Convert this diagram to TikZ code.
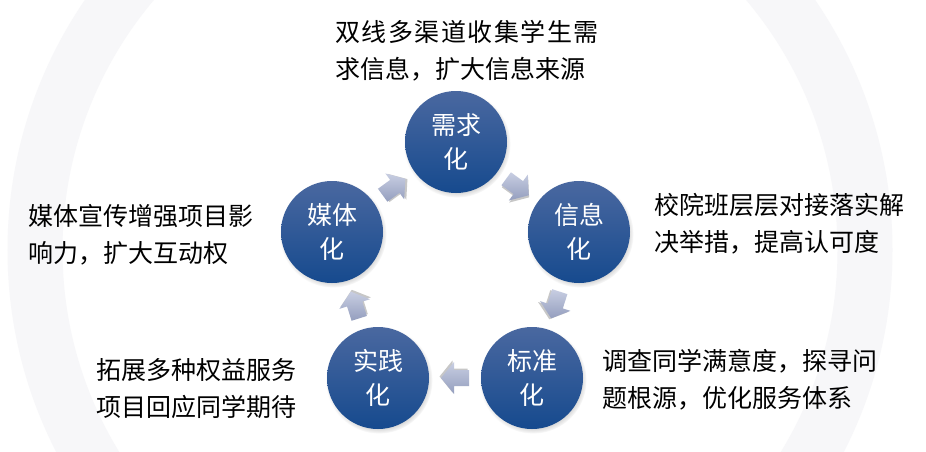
\documentclass[tikz,border=0pt]{standalone}
\usepackage{fontspec}
\newfontfamily\cjk{Noto Sans CJK SC}
\newfontfamily\cjkwide[LetterSpace=6]{Noto Sans CJK SC}
\usetikzlibrary{shadows,calc}
\definecolor{circtop}{RGB}{74,104,160}
\definecolor{circbot}{RGB}{22,74,142}
\definecolor{arrtop}{RGB}{200,206,226}
\definecolor{arrbot}{RGB}{148,158,190}
\definecolor{wm}{RGB}{247,247,249}
\tikzset{
  stage/.style={circle, minimum size=102pt, inner sep=0pt,
    top color=circtop, bottom color=circbot, text=white, align=center,
    font=\cjk\fontsize{25}{34}\selectfont,
    circular drop shadow={shadow xshift=1pt, shadow yshift=-2pt, shadow scale=1.05, opacity=0.45}},
  note/.style={anchor=west, align=left, inner sep=0pt, text=black,
    font=\cjk\fontsize{25}{37}\selectfont},
  blockarrow/.pic={
    \fill[black, opacity=0.22] (-12.5pt,-9.5pt) -- (2.5pt,-9.5pt) -- (2.5pt,-17.5pt) -- (15.5pt,-1.5pt) -- (2.5pt,14.5pt) -- (2.5pt,6.5pt) -- (-12.5pt,6.5pt) -- cycle;
    \shade[top color=arrtop, bottom color=arrbot] (-14pt,-8pt) -- (1pt,-8pt) -- (1pt,-16pt) -- (14pt,0pt) -- (1pt,16pt) -- (1pt,8pt) -- (-14pt,8pt) -- cycle;
  }
}
\begin{document}
\begin{tikzpicture}[x=1pt,y=-1pt]
\useasboundingbox (0,0) rectangle (926,452);
\fill[white] (0,0) rectangle (926,452);
\begin{scope}
\clip (0,0) rectangle (926,452);
\draw[wm, line width=55pt] (450,250) circle (415);
\end{scope}

\node[stage] (xu)   at (456,142) {需求\\化};
\node[stage] (xin)  at (579,232) {信息\\化};
\node[stage] (biao) at (532,378) {标准\\化};
\node[stage] (shi)  at (378,378) {实践\\化};
\node[stage] (mei)  at (332,232) {媒体\\化};

\path (mei)  -- (xu)   pic[midway, sloped, allow upside down] {blockarrow};
\path (xu)   -- (xin)  pic[midway, sloped, allow upside down] {blockarrow};
\path (xin)  -- (biao) pic[midway, sloped, allow upside down] {blockarrow};
\path (biao) -- (shi)  pic[midway, sloped, allow upside down] {blockarrow};
\path (shi)  -- (mei)  pic[midway, sloped, allow upside down] {blockarrow};

\node[note] (nxu)   at (335,50.5)  {{\cjkwide 双线多渠道收集学生需}\\求信息，扩大信息来源};
\node[note] (nxin)  at (654,223.5) {校院班层层对接落实解\\决举措，提高认可度};
\node[note] (nmei)  at (28,235)    {媒体宣传增强项目影\\响力，扩大互动权};
\node[note] (nbiao) at (602,380)   {调查同学满意度，探寻问\\题根源，优化服务体系};
\node[note] (nshi)  at (96,388.5)  {拓展多种权益服务\\项目回应同学期待};
\end{tikzpicture}
\end{document}
